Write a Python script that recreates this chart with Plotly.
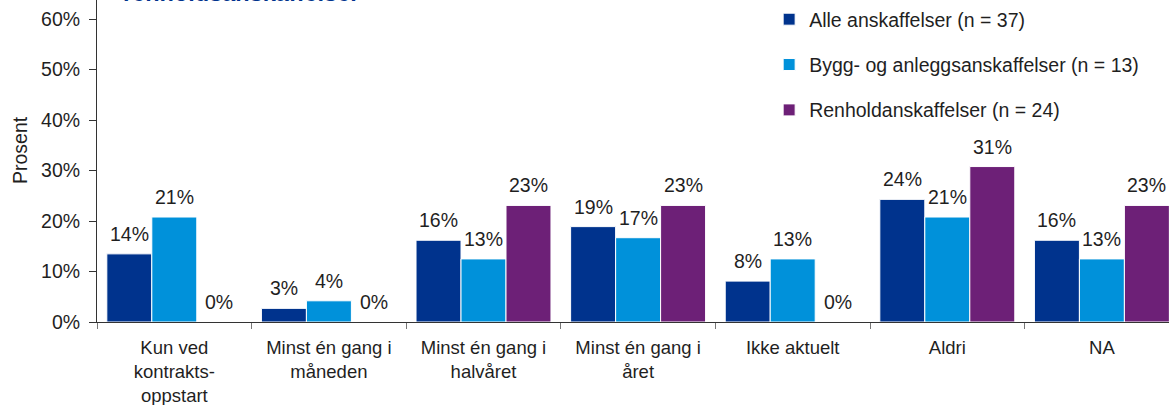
import plotly.graph_objects as go

categories = ["Kun ved<br>kontrakts-<br>oppstart", "Minst én gang i<br>måneden", "Minst én gang i<br>halvåret",
              "Minst én gang i<br>året", "Ikke aktuelt", "Aldri", "NA"]
series_names = ["Alle anskaffelser (n = 37)", "Bygg- og anleggsanskaffelser (n = 13)", "Renholdanskaffelser (n = 24)"]
alle = [13.5, 2.7, 16.2, 18.9, 8.1, 24.3, 16.2]
bygg = [20.8, 4.2, 12.5, 16.7, 12.5, 20.8, 12.5]
renhold = [0, 0, 23.1, 23.1, 0, 30.8, 23.1]
alle_lbl = ["14%", "3%", "16%", "19%", "8%", "24%", "16%"]
bygg_lbl = ["21%", "4%", "13%", "17%", "13%", "21%", "13%"]
renhold_lbl = ["0%", "0%", "23%", "23%", "0%", "31%", "23%"]
y_tickvals = [0, 10, 20, 30, 40, 50, 60]
y_ticktext = ["0%", "10%", "20%", "30%", "40%", "50%", "60%"]
colors = ["#00338D", "#0091DA", "#6D2077"]

FONT = "Liberation Sans, Arial, sans-serif"
TXT = "#1f1f1f"
FS = 19.5

fig = go.Figure()
series = [alle, bygg, renhold]
labels = [alle_lbl, bygg_lbl, renhold_lbl]
for i, (name, vals, col) in enumerate(zip(series_names, series, colors)):
    fig.add_trace(go.Bar(x=categories, y=vals, name=name, marker=dict(color=col, line=dict(color="white", width=1)),
                         legendgroup=str(i), hoverinfo="skip"))

annotations = []
bar_px = 45
for i, (vals, lbls) in enumerate(zip(series, labels)):
    for c, v, t in zip(categories, vals, lbls):
        annotations.append(dict(x=c, y=v, xref="x", yref="y", text=t, showarrow=False, yanchor="bottom",
                                xshift=(i - 1) * bar_px, yshift=7, font=dict(family=FONT, size=FS, color=TXT)))

annotations.append(dict(text="<b>renholdsanskaffelser</b>", xref="paper", yref="paper", x=0.0, y=1.0,
                        xanchor="left", yanchor="bottom", xshift=24, yshift=-8, showarrow=False,
                        font=dict(family=FONT, size=23.5, color="#00338D")))
annotations.append(dict(text="Prosent", xref="paper", yref="paper", x=0, y=0.534, textangle=-90,
                        xanchor="center", yanchor="middle", xshift=-77, showarrow=False,
                        font=dict(family=FONT, size=FS, color=TXT)))

fig.update_layout(
    width=1169, height=405,
    margin=dict(l=97, r=0, t=0, b=83),
    barmode="group", bargap=0.127, bargroupgap=0,
    plot_bgcolor="white", paper_bgcolor="white",
    font=dict(family=FONT, size=FS, color=TXT),
    showlegend=True,
    legend=dict(x=0.627, y=1.0, xanchor="left", yanchor="top", font=dict(size=FS, color=TXT),
                tracegroupgap=17, bgcolor="rgba(0,0,0,0)"),
    annotations=annotations,
)
fig.update_xaxes(range=[-0.5, 6.434], showline=True, linecolor="#333", linewidth=1, ticks="outside",
                 tickson="boundaries", ticklen=6, tickcolor="#777", ticklabelstandoff=9,
                 tickfont=dict(size=18.5, color=TXT), showgrid=False, automargin=False)
fig.update_yaxes(range=[0, 63.8], tickmode="array", tickvals=y_tickvals, ticktext=y_ticktext,
                 showline=True, linecolor="#333", linewidth=1, automargin=False,
                 ticks="outside", ticklen=7, tickcolor="#333", ticklabelstandoff=5, showgrid=False, zeroline=False,
                 tickfont=dict(size=FS, color=TXT))

fig.write_html("out.html", config={"displayModeBar": False},
               post_script="document.body.style.margin='0';")
